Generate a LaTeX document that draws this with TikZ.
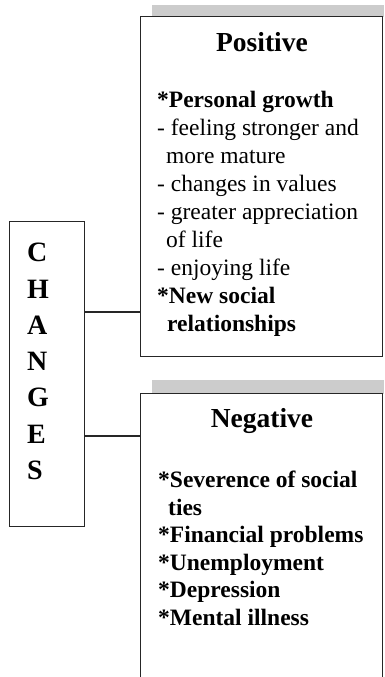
\documentclass[tikz,border=0pt]{standalone}
\usepackage{fontspec}
\setmainfont{Liberation Serif}
\begin{document}
\begin{tikzpicture}[x=1pt,y=-1pt,
  frame/.style={draw=black!85,line width=1.3pt,fill=white,inner sep=0pt,anchor=north west},
  shade/.style={fill=black!20,draw=none},
  title/.style={font=\fontsize{27.5}{30}\selectfont\bfseries,inner sep=0pt,anchor=base},
  body/.style={font=\fontsize{23.5}{28}\selectfont,inner sep=0pt,anchor=north west,align=left},
  link/.style={draw=black!85,line width=1.1pt}]
\clip (0,0) rectangle (384,677);
\fill[white] (0,0) rectangle (384,677);
% shadow strips above the two boxes
\fill[shade] (152,5) rectangle (384,17);
\fill[shade] (152,380) rectangle (384,394);
% boxes
\node[frame,minimum width=242pt,minimum height=340pt] (pos) at (140,16) {};
\node[frame,minimum width=242pt,minimum height=320pt] (neg) at (140,393) {};
\node[frame,minimum width=75pt,minimum height=305pt] (chg) at (9,221) {};
% vertical label
\node[font=\fontsize{28}{36.3}\selectfont\bfseries,inner sep=0pt,anchor=north west,align=left] (lbl) at (27,243)
  {C\\H\\A\\N\\G\\E\\S};
% titles
\node[title] (tpos) at (262,52) {Positive};
\node[title] (tneg) at (262,427) {Negative};
% list of positive changes
\node[body] (lpos) at (157,90.8)
  {\textbf{*Personal growth}\\
   - feeling stronger and\\
   \hspace*{9pt}more mature\\
   - changes in values\\
   - greater appreciation\\
   \hspace*{9pt}of life\\
   - enjoying life\\
   \textbf{*New social}\\
   \hspace*{10pt}\textbf{relationships}};
% list of negative changes
\node[body,font=\fontsize{23.5}{27.6}\selectfont\bfseries] (lneg) at (158,470.8)
  {*Severence of social\\
   \hspace*{10pt}ties\\
   *Financial problems\\
   *Unemployment\\
   *Depression\\
   *Mental illness};
% connectors
\coordinate (j1) at (84,312);
\coordinate (j2) at (84,436);
\draw[link] (j1) -- (j1 -| pos.west);
\draw[link] (j2) -- (j2 -| neg.west);
\end{tikzpicture}
\end{document}
